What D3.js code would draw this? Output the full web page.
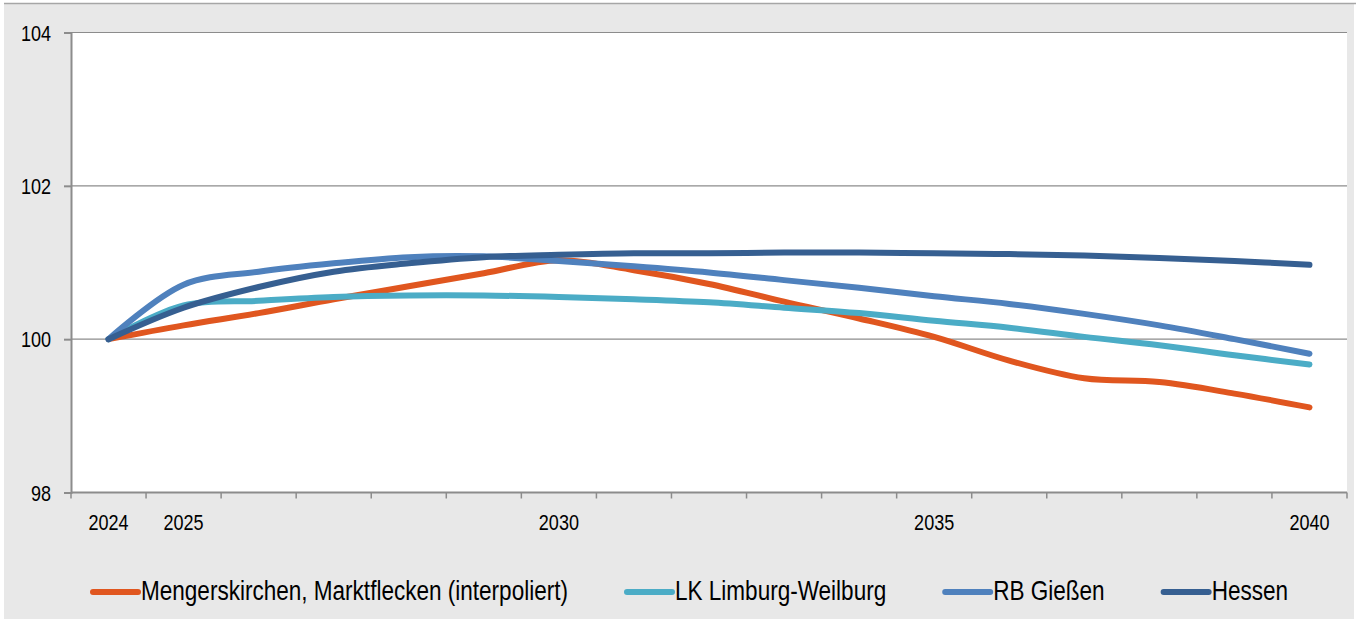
<!DOCTYPE html>
<html>
<head>
<meta charset="utf-8">
<script src="https://cdn.jsdelivr.net/npm/d3@7"></script>
<style>
  html, body { margin: 0; padding: 0; background: #ffffff; }
  svg { display: block; }
  text { font-family: "Liberation Sans", Arial, sans-serif; fill: #000; }
</style>
</head>
<body>
<div id="chart"></div>
<script>
"use strict";

var W = 1357;
var H = 619;
var NARROW = 0.82; // Liberation Sans squeezed to look like Arial Narrow

// Data (index 2024 = 100)
var years = [2024, 2025, 2026, 2027, 2028, 2029, 2030, 2031, 2032, 2033, 2034, 2035, 2036, 2037, 2038, 2039, 2040];
var yearLabels = [2024, 2025, 2030, 2035, 2040];
var yTicks = [98, 100, 102, 104];

var seriesNames = ["Mengerskirchen, Marktflecken (interpoliert)", "LK Limburg-Weilburg", "RB Gießen", "Hessen"];
var mengerskirchen = [100, 100.18, 100.34, 100.52, 100.69, 100.86, 101.03, 100.90, 100.72, 100.49, 100.27, 100.03, 99.72, 99.49, 99.44, 99.29, 99.11];
var limburgWeilburg = [100, 100.44, 100.50, 100.55, 100.57, 100.57, 100.55, 100.52, 100.48, 100.41, 100.34, 100.24, 100.15, 100.03, 99.92, 99.79, 99.67];
var rbGiessen = [100, 100.71, 100.88, 100.99, 101.07, 101.08, 101.02, 100.95, 100.87, 100.77, 100.67, 100.56, 100.46, 100.33, 100.18, 100.00, 99.81];
var hessen = [100, 100.41, 100.68, 100.88, 100.99, 101.07, 101.10, 101.12, 101.12, 101.13, 101.13, 101.12, 101.11, 101.09, 101.06, 101.02, 100.97];
var seriesColors = ["#e0561f", "#4bacc6", "#4f81bd", "#365f91"];

var seriesValues = [mengerskirchen, limburgWeilburg, rbGiessen, hessen];

var margin = { left: 71, top: 32.5 };
var plotW = 1347 - margin.left;
var plotH = 492.5 - margin.top;

var svg = d3.select("#chart").append("svg")
    .attr("width", W)
    .attr("height", H);

// Background frame
svg.append("rect")
    .attr("x", 4).attr("y", 3.5)
    .attr("width", 1350).attr("height", H - 3.5)
    .attr("fill", "#e8e8e8");
svg.append("path")
    .attr("d", "M4,3.5H1356")
    .attr("stroke", "#a6a6a6")
    .attr("stroke-width", 1.5);

var plot = svg.append("g").attr("transform", translate(margin.left, margin.top));

plot.append("rect")
    .attr("width", plotW).attr("height", plotH)
    .attr("fill", "#ffffff");

var x = d3.scaleBand().domain(years).range([0, plotW]).padding(0);
var y = d3.scaleLinear().domain([98, 104]).range([plotH, 0]);

// Gridlines
yTicks.forEach(function (t) {
    if (t == 98) {
        return;
    }
    plot.append("path")
        .attr("d", "M0," + y(t) + "H" + plotW)
        .attr("stroke", "#8c8c8c")
        .attr("stroke-width", 1.2);
});

// Y axis
var yAxis = d3.axisLeft(y).tickValues(yTicks).tickFormat(d3.format("d")).tickSize(7).tickPadding(13);
var gy = plot.append("g").call(yAxis);
gy.select(".domain").attr("stroke", "#8c8c8c").attr("stroke-width", 2);
gy.selectAll(".tick line").attr("stroke", "#8c8c8c").attr("stroke-width", 2);
gy.selectAll(".tick text").remove();
yTicks.forEach(function (t) {
    narrowText(plot, d3.format("d")(t), -20, y(t) + 8, 22, "end");
});

// X axis: ticks at category boundaries
var gx = plot.append("g").attr("transform", translate(0, plotH));
gx.append("path")
    .attr("d", "M0,0H" + plotW)
    .attr("stroke", "#8c8c8c")
    .attr("stroke-width", 2);
var boundaries = years.map(function (d) { return x(d); }).concat([plotW]);
boundaries.forEach(function (b) {
    gx.append("path")
        .attr("d", "M" + b + ",0V6")
        .attr("stroke", "#8c8c8c")
        .attr("stroke-width", 1.5);
});
yearLabels.forEach(function (yr) {
    narrowText(gx, yr, x(yr) + x.bandwidth() / 2, 37, 22, "middle");
});

// Lines
var line = d3.line()
    .x(function (d, i) { return x(years[i]) + x.bandwidth() / 2; })
    .y(function (d) { return y(d); })
    .curve(d3.curveCatmullRom.alpha(0.5));

seriesValues.forEach(function (vals, i) {
    plot.append("path")
        .attr("d", line(vals))
        .attr("fill", "none")
        .attr("stroke", seriesColors[i])
        .attr("stroke-width", 6)
        .attr("stroke-linecap", "round")
        .attr("stroke-linejoin", "round");
});

// Legend
var legend = svg.append("g").attr("transform", translate(93, 592));
var lx = 0;
seriesNames.forEach(function (name, i) {
    legend.append("path")
        .attr("d", "M" + lx + ",0H" + (lx + 45))
        .attr("stroke", seriesColors[i])
        .attr("stroke-width", 6)
        .attr("stroke-linecap", "round");
    var t = narrowText(legend, name, lx + 48, 8, 27.5, "start");
    lx += 48 + t.node().getComputedTextLength() * NARROW + 59;
});

// Text squeezed horizontally around its anchor point
function narrowText(parent, str, tx, ty, size, anchor) {
    return parent.append("text")
        .text(str)
        .attr("transform", translate(tx, ty) + " scale(" + NARROW + ",1)")
        .attr("text-anchor", anchor)
        .attr("font-size", size);
}

function translate(a, b) {
    return "translate(" + a + "," + b + ")";
}
</script>
</body>
</html>
